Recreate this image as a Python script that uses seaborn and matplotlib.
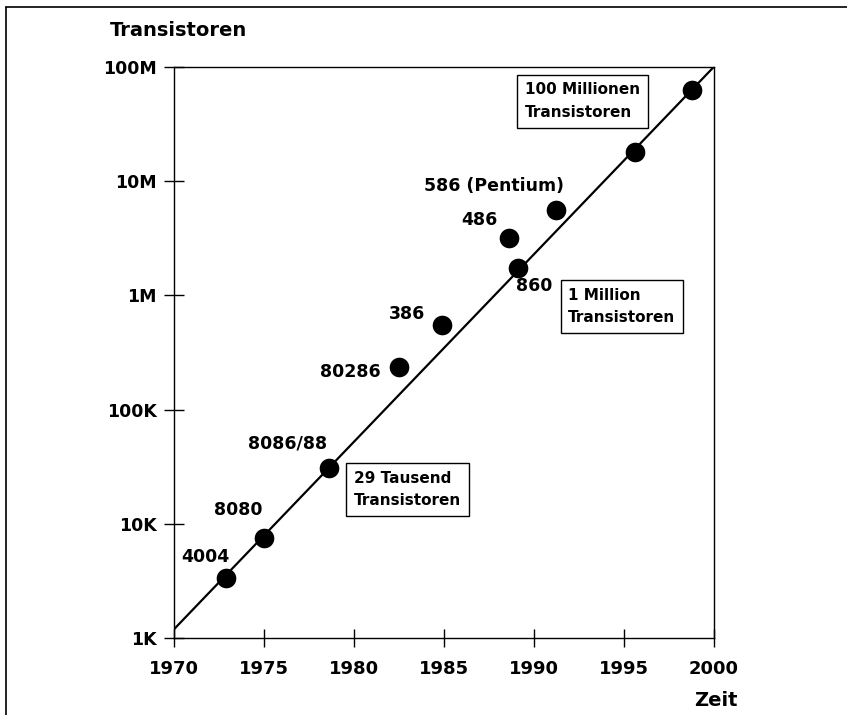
import matplotlib
matplotlib.use("Agg")
import matplotlib.pyplot as plt
import matplotlib.ticker as mticker
from matplotlib.lines import Line2D
import seaborn as sns
import pandas as pd

# ---- data ----
chips = ["4004", "8080", "8086/88", "80286", "386", "486", "860", "586 (Pentium)", "", ""]
years = [1972.9, 1975.0, 1978.6, 1982.5, 1984.9, 1988.6, 1989.1, 1991.2, 1995.6, 1998.8]
transistors = [3.4e3, 7.6e3, 3.1e4, 2.35e5, 5.5e5, 3.2e6, 1.74e6, 5.6e6, 1.78e7, 6.2e7]

trend_years = [1970, 2000]
trend_values = [1.2e3, 1.0e8]

y_ticks = [1e3, 1e4, 1e5, 1e6, 1e7, 1e8]
y_tick_labels = ["1K", "10K", "100K", "1M", "10M", "100M"]
x_ticks = [1970, 1975, 1980, 1985, 1990, 1995, 2000]

box_texts = ["100 Millionen\nTransistoren", "1 Million\nTransistoren", "29 Tausend\nTransistoren"]
box_years = [1989.5, 1991.9, 1980.0]
box_values = [5.0e7, 8.0e5, 2.0e4]

# label placement (pixel offsets from the dot, horizontal alignment)
label_dx = [-21, -26, -41, -18, -17, -11, 16, 8, 0, 0]
label_dy = [21, 28, 24, -5, 11, 18, -18, 24, 0, 0]
label_ha = ["center", "center", "center", "right", "right", "right", "center", "right", "center", "center"]

df = pd.DataFrame({"year": years, "transistors": transistors, "chip": chips})
trend = pd.DataFrame({"year": trend_years, "transistors": trend_values})

sns.set_style("white")
plt.rcParams["font.family"] = ["DejaVu Sans"]
plt.rcParams["font.weight"] = "bold"
plt.rcParams["text.color"] = "black"

fig = plt.figure(figsize=(8.47, 7.15), dpi=100)
ax = fig.add_axes([174 / 847, 1 - 638.3 / 715, (714 - 174) / 847, (638.3 - 66.7) / 715])

sns.lineplot(data=trend, x="year", y="transistors", ax=ax, color="black", linewidth=1.6)
sns.scatterplot(data=df, x="year", y="transistors", ax=ax, color="black", s=200,
                edgecolor="black", linewidth=0, zorder=5)

ax.set_yscale("log")
ax.set_xlim(1970, 2000)
ax.set_ylim(1e3, 1e8)
ax.set_yticks(y_ticks)
ax.set_yticklabels(y_tick_labels)
ax.yaxis.set_minor_locator(mticker.NullLocator())
ax.set_xticks(x_ticks)
ax.set_xticklabels([str(v) for v in x_ticks])
ax.set_xlabel("")
ax.set_ylabel("")

for sp in ax.spines.values():
    sp.set_visible(True)
    sp.set_color("black")
    sp.set_linewidth(1.0)

ax.tick_params(axis="y", left=True, direction="inout", length=15, width=1.0, pad=5,
               labelsize=12.5, colors="black")
ax.tick_params(axis="x", bottom=True, direction="inout", length=13, width=1.0, pad=9,
               labelsize=13, colors="black")
for lab in ax.get_xticklabels() + ax.get_yticklabels():
    lab.set_fontweight("bold")

for name, x, y, dx, dy, ha in zip(chips, years, transistors, label_dx, label_dy, label_ha):
    if name:
        ax.annotate(name, (x, y), xytext=(dx, dy), textcoords="offset pixels",
                    ha=ha, va="center", fontsize=12.5, fontweight="bold", color="black")

for t, x, y in zip(box_texts, box_years, box_values):
    ax.text(x, y, t, ha="left", va="center", fontsize=11, fontweight="bold",
            linespacing=1.65, color="black",
            bbox=dict(boxstyle="square,pad=0.5", facecolor="white",
                      edgecolor="black", linewidth=1.0), zorder=6)

fig.text(110 / 847, 1 - 31 / 715, "Transistoren", ha="left", va="center",
         fontsize=14, fontweight="bold", color="black")
fig.text(716 / 847, 1 - 700 / 715, "Zeit", ha="center", va="center",
         fontsize=14, fontweight="bold", color="black")

# page frame (left and top edges)
fig.add_artist(Line2D([6 / 847, 6 / 847], [0, 1 - 7 / 715], transform=fig.transFigure,
                      color="black", linewidth=1.2))
fig.add_artist(Line2D([6 / 847, 1], [1 - 7 / 715, 1 - 7 / 715], transform=fig.transFigure,
                      color="black", linewidth=1.2))

fig.savefig("out.png", dpi=100)
